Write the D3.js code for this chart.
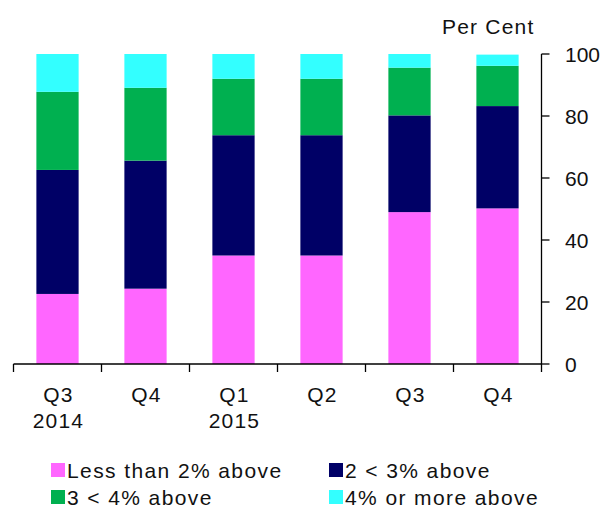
<!DOCTYPE html>
<html><head><meta charset="utf-8">
<script src="https://cdn.jsdelivr.net/npm/d3@7"></script>
<style>
html,body{margin:0;padding:0;background:#fff;}
svg{display:block;font-family:"Liberation Sans",Arial,sans-serif;}
</style></head>
<body>
<svg id="chart" width="605" height="509"></svg>
<script>
const categories = ["Q3|2014", "Q4", "Q1|2015", "Q2", "Q3", "Q4"];
const seriesNames = ["Less than 2% above", "2 < 3% above", "3 < 4% above", "4% or more above"];
const lessThan2 = [22.6, 24.3, 35.0, 35.0, 49.0, 50.2];
const from2to3 = [40.0, 41.3, 38.8, 38.8, 31.2, 33.0];
const from3to4 = [25.2, 23.5, 18.2, 18.2, 15.4, 13.0];
const fourOrMore = [12.2, 10.9, 8.0, 8.0, 4.4, 3.6];
const yTicks = [0, 20, 40, 60, 80, 100];
const colors = ["#FF66FF", "#000066", "#00B050", "#33FFFF"];

const svg = d3.select("#chart");
const idx = categories.map((c, i) => i);
const x = d3.scaleBand().domain(idx).range([13.5, 541.5]).padding(0);
const y = d3.scaleLinear().domain([0, 100]).range([364, 54]);

const rows = categories.map((c, i) => ({i: i, s0: lessThan2[i], s1: from2to3[i], s2: from3to4[i], s3: fourOrMore[i]}));
const stack = d3.stack().keys(["s0", "s1", "s2", "s3"])(rows);
const barW = x.bandwidth() * 0.48;

svg.append("g").selectAll("g").data(stack).join("g")
  .attr("fill", (d, i) => colors[i])
  .selectAll("rect").data(d => d).join("rect")
  .attr("x", d => x(d.data.i) + (x.bandwidth() - barW) / 2)
  .attr("width", barW)
  .attr("y", d => y(d[1]))
  .attr("height", d => y(d[0]) - y(d[1]));

// x axis
const ax = svg.append("g").attr("stroke", "#000").attr("stroke-width", 1.3);
ax.append("line").attr("x1", x.range()[0]).attr("x2", x.range()[1]).attr("y1", y(0)).attr("y2", y(0));
const bounds = idx.map(i => x(i)).concat([x.range()[1]]);
ax.selectAll("line.t").data(bounds).join("line").attr("class", "t")
  .attr("x1", d => d).attr("x2", d => d).attr("y1", y(0)).attr("y2", y(0) + 8);

// x labels
const xl = svg.append("g").attr("font-size", 21).attr("letter-spacing", 1.2).attr("fill", "#111").attr("text-anchor", "middle");
categories.forEach((c, i) => {
  const parts = c.split("|");
  const cx = x(i) + x.bandwidth() / 2 + 1;
  const t = xl.append("text").attr("x", cx).attr("y", 401.5);
  parts.forEach((p, j) => t.append("tspan").attr("x", cx).attr("dy", j === 0 ? 0 : 26.5).text(p));
});

// y axis (right)
const yx = x.range()[1];
const ay = svg.append("g").attr("stroke", "#000").attr("stroke-width", 1.3);
ay.append("line").attr("x1", yx).attr("x2", yx).attr("y1", y(0)).attr("y2", y(100));
ay.selectAll("line.t").data(yTicks).join("line").attr("class", "t")
  .attr("x1", yx).attr("x2", yx + 8).attr("y1", d => y(d)).attr("y2", d => y(d));
svg.append("g").attr("font-size", 21).attr("fill", "#111")
  .selectAll("text").data(yTicks).join("text")
  .attr("x", 565).attr("y", d => y(d) + 7.5).text(d => d);

svg.append("text").attr("x", 442).attr("y", 34).attr("font-size", 21).attr("letter-spacing", 1.2)
  .attr("fill", "#111").text("Per Cent");

// legend
const legendPos = [[51, 463], [329, 463], [51, 490], [329, 490]];
const lg = svg.append("g");
seriesNames.forEach((n, i) => {
  const [lx, ly] = legendPos[i];
  lg.append("rect").attr("x", lx).attr("y", ly).attr("width", 14).attr("height", 14).attr("fill", colors[i]);
  lg.append("text").attr("x", lx + 16).attr("y", ly + 15).attr("font-size", 21).attr("letter-spacing", 1.4)
    .attr("fill", "#111").text(n);
});
</script>
</body></html>
